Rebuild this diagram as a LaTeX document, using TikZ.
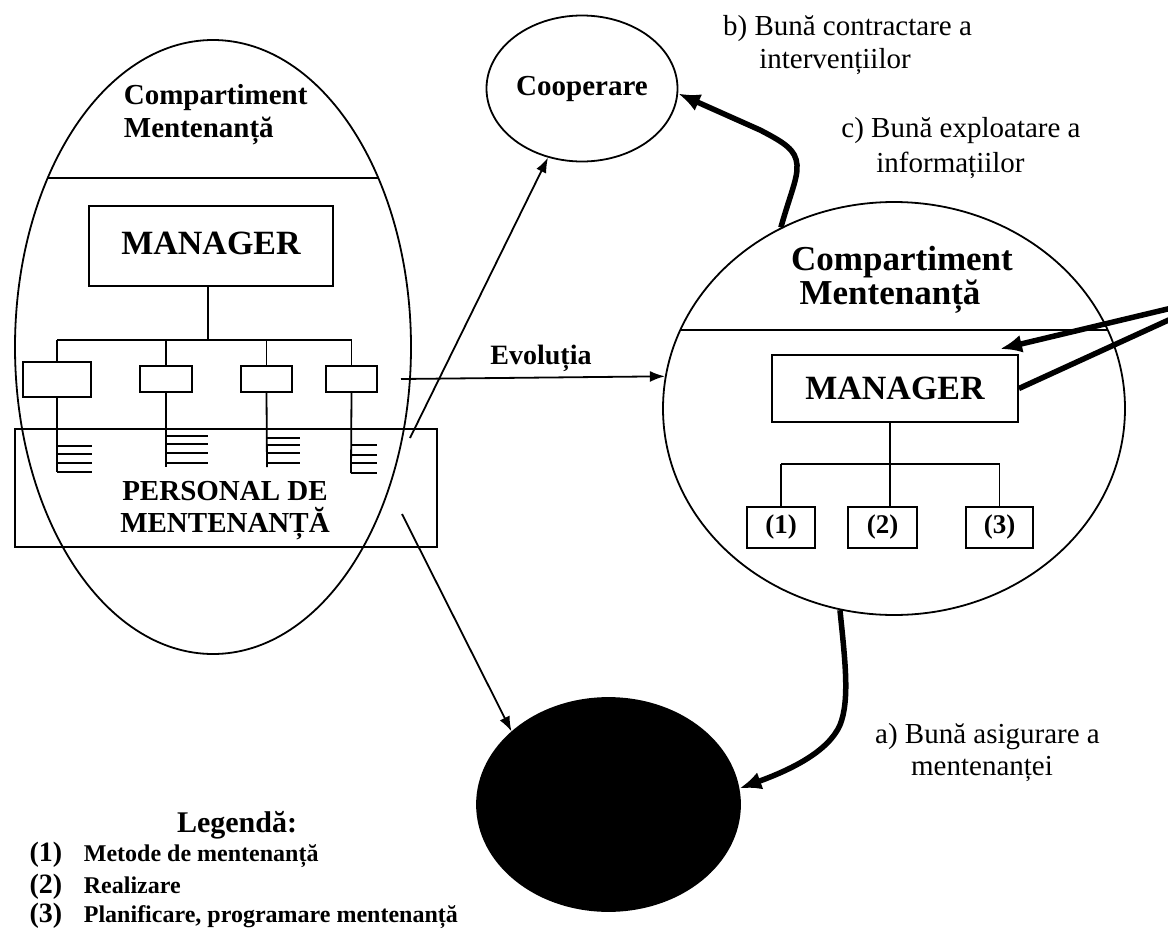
\documentclass[tikz,border=0pt]{standalone}
\usepackage{fontspec}
\setmainfont{Liberation Serif}
\usetikzlibrary{arrows.meta,shapes.geometric}

\begin{document}
\begin{tikzpicture}[x=1pt,y=-1pt,
  line width=1.8pt,
  oval/.style={draw, ellipse, inner sep=0pt, line width=1.8pt},
  box/.style={draw, rectangle, inner sep=0pt, line width=1.8pt},
  comb/.style={line width=2.3pt},
  thinarrow/.style={line width=1.8pt, -{Latex[length=15pt,width=11pt]}},
  heavy/.style={line width=5.5pt},
  heavyarrow/.style={line width=5.5pt, -{Latex[length=22pt,width=18pt]}},
  txt/.style={inner sep=0pt, anchor=base},
  ttlL/.style={txt, anchor=base west, font=\fontsize{29}{29}\selectfont\bfseries},
  ttlR/.style={txt, font=\fontsize{35}{35}\selectfont\bfseries},
  mgr/.style={font=\fontsize{34}{34}\selectfont\bfseries},
  pers/.style={txt, font=\fontsize{29}{29}\selectfont\bfseries},
  blab/.style={txt, font=\fontsize{28}{28}\selectfont\bfseries},
  numbox/.style={box, font=\fontsize{27}{27}\selectfont\bfseries},
  rlab/.style={txt, font=\fontsize{29}{29}\selectfont},
  legh/.style={txt, font=\fontsize{30}{30}\selectfont\bfseries},
  legn/.style={txt, font=\fontsize{28}{28}\selectfont\bfseries},
  legt/.style={txt, anchor=base west, font=\fontsize{24}{24}\selectfont\bfseries},
]
\useasboundingbox (0,0) rectangle (1168,929);

% ---------- left compartment (before) ----------
\node[oval, minimum width=396pt, minimum height=614pt] (L) at (213,347) {};
\draw (48,178) -- (378,178);
\node[ttlL] (Lt1) at (123,104) {Compartiment};
\node[ttlL] (Lt2) at (123,137) {Mentenanță};

\node[box, mgr, minimum width=244pt, minimum height=80pt] (M1) at (211,246)
  {\raisebox{5pt}{MANAGER}\hspace{10pt}};

\node[box, minimum width=68pt, minimum height=35pt] (b1) at (57,379.5) {};
\node[box, minimum width=52pt, minimum height=26pt] (b2) at (166,379) {};
\node[box, minimum width=51pt, minimum height=26pt] (b3) at (266.5,379) {};
\node[box, minimum width=51pt, minimum height=26pt] (b4) at (351.5,379) {};

\coordinate (bus1) at (208,340);
\draw (bus1 |- M1.south) -- (bus1);
\draw (b1.north |- bus1) -- (b4.north |- bus1);
\foreach \b in {b1,b2,b3,b4} \draw (\b.north |- bus1) -- (\b.north);

% personnel combs below each unit
\draw (b1.south) -- (57,472);
\foreach \y in {446,454,463,472} \draw[comb] (57,\y) -- (92,\y);
\draw (b2.south) -- (166,467);
\foreach \y in {436,444,453,463} \draw[comb] (166,\y) -- (208,\y);
\draw (b3.south) -- (267,467);
\foreach \y in {438,445,453,463} \draw[comb] (267,\y) -- (300,\y);
\draw (b4.south) -- (351,473);
\foreach \y in {445,455,463,473} \draw[comb] (351,\y) -- (377,\y);

\node[box, minimum width=422pt, minimum height=118pt] (P) at (226,488) {};
\node[pers] (Pt1) at (225,500) {PERSONAL DE};
\node[pers] (Pt2) at (225,532) {MENTENANȚĂ};

% ---------- cooperation ----------
\node[oval, minimum width=191pt, minimum height=146pt,
      font=\fontsize{29}{29}\selectfont\bfseries] (C) at (582,88.5) {\raisebox{-3pt}{Cooperare}};

% ---------- right compartment (after) ----------
\node[oval, minimum width=462pt, minimum height=413pt] (R) at (894,408.5) {};
\draw (681,330) -- (1108,330);
\node[ttlR] (Rt1) at (902,270) {Compartiment};
\node[ttlR] (Rt2) at (890,304) {Mentenanță};

\node[box, mgr, minimum width=246pt, minimum height=67pt] (M2) at (895,388.5)
  {MANAGER\hspace{13pt}};

\node[numbox, minimum width=68pt, minimum height=41pt] (n1) at (781,527.5) {(1)};
\node[numbox, minimum width=69pt, minimum height=41pt] (n2) at (882.5,527.5) {(2)};
\node[numbox, minimum width=67pt, minimum height=41pt] (n3) at (999.5,527.5) {(3)};

\coordinate (bus2) at (890,464);
\draw (bus2 |- M2.south) -- (bus2);
\draw (n1.north |- bus2) -- (n3.north |- bus2);
\draw (n1.north |- bus2) -- (n1.north);
\draw (bus2) -- (bus2 |- n2.north);
\draw (n3.north |- bus2) -- (n3.north);

% ---------- black ellipse ----------
\node[oval, fill=black, minimum width=263pt, minimum height=213pt] (B) at (608.5,804.5) {};

% ---------- connectors ----------
\coordinate (e0) at (401,379);
\draw[thinarrow] (e0) -- (R.172.7);
\node[blab] (ev) at (541,364) {Evoluția};

\coordinate (c0) at (410,438);
\draw[thinarrow] (c0) -- (C);

\coordinate (k0) at (402,514);
\draw[thinarrow] (k0) -- (B.143);

\draw[heavyarrow] (R.122) .. controls (790,195) and (798,178) .. (797,165)
  .. controls (796,150) and (785,143) .. (760,130) -- (C.-3);

\draw[heavyarrow] (R.-105) .. controls (845,660) and (850,700) .. (840,725)
  .. controls (828,752) and (790,770) .. (B.7);

\coordinate (src) at (1220,296.5);
\coordinate (mtip) at (1000,349);
\draw[heavyarrow] (src) -- (mtip);
\draw[heavy] (src) -- (M2.east);

% ---------- labels ----------
\node[rlab] (la1) at (847.5,35) {b) Bună contractare a};
\node[rlab] (la2) at (835,68) {intervențiilor};
\node[rlab] (lc1) at (961,137) {c) Bună exploatare a};
\node[rlab] (lc2) at (950.5,172) {informațiilor};
\node[rlab] (lb1) at (987.5,743) {a) Bună asigurare a};
\node[rlab] (lb2) at (982,775) {mentenanței};

% ---------- legend ----------
\node[legh] (lg) at (237,832) {Legendă:};
\node[legn] (g1) at (46,861) {(1)};
\node[legt] (g1t) at (83,861) {Metode de mentenanță};
\node[legn] (g2) at (46,893) {(2)};
\node[legt] (g2t) at (83,893) {Realizare};
\node[legn] (g3) at (46,922) {(3)};
\node[legt] (g3t) at (83,922) {Planificare, programare mentenanță};
\end{tikzpicture}
\end{document}
